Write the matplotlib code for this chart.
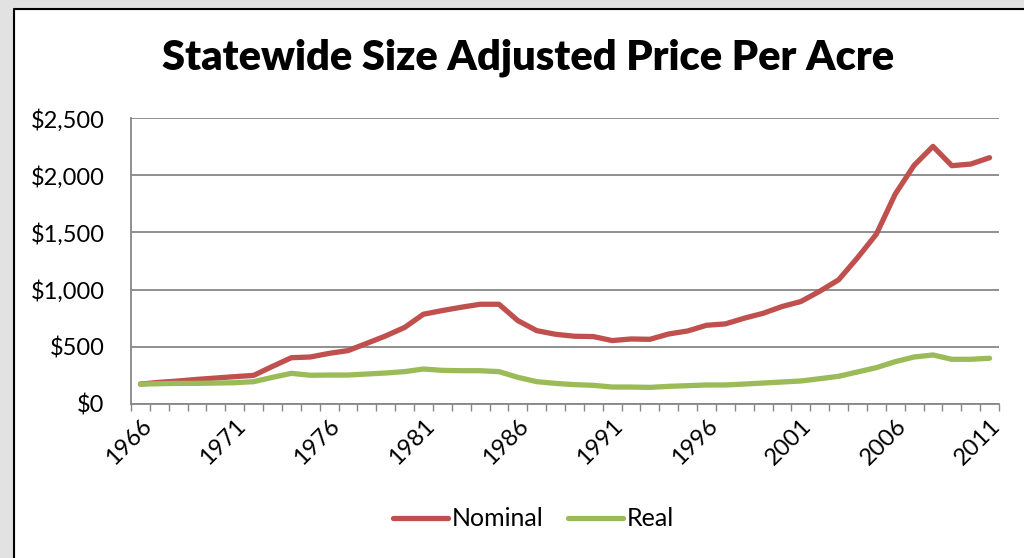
import matplotlib
matplotlib.use("Agg")
import matplotlib.pyplot as plt
from matplotlib.patches import Rectangle
from matplotlib.lines import Line2D
from matplotlib.ticker import FuncFormatter

plt.rcParams["font.family"] = "Lato"

years = list(range(1966, 2012))
nominal = [172, 187, 199, 213, 225, 237, 248, 327, 403, 409,
           441, 465, 529, 594, 668, 784, 816, 845, 871, 871,
           728, 640, 608, 591, 588, 553, 567, 564, 611, 637,
           687, 699, 749, 792, 851, 895, 985, 1085, 1278, 1485,
           1836, 2088, 2254, 2085, 2099, 2155]
real = [172, 175, 178, 178, 181, 184, 193, 231, 266, 249,
        251, 251, 260, 269, 281, 304, 292, 289, 289, 281,
        231, 193, 178, 167, 161, 146, 146, 143, 152, 158,
        164, 164, 172, 181, 190, 199, 219, 240, 278, 316,
        368, 409, 427, 389, 389, 398]
y_ticks = [0, 500, 1000, 1500, 2000, 2500]

fig = plt.figure(figsize=(10.24, 5.58), dpi=100)

# grey shadow + black frame (left and top only) of the chart box
fl, ft = 14 / 1024, 1 - 9 / 558
fig.patches.append(Rectangle((0, 0), fl, 1, transform=fig.transFigure,
                             color="#e2e2e2", zorder=0))
fig.patches.append(Rectangle((0, ft), 1, 1 - ft, transform=fig.transFigure,
                             color="#e2e2e2", zorder=0))
fig.lines.append(Line2D([fl, fl, 1], [0, ft, ft], transform=fig.transFigure,
                        color="black", linewidth=1.5))

ax = fig.add_axes([131 / 1024, 1 - 403.7 / 558, (999 - 131) / 1024, (403.7 - 118.3) / 558])
x = list(range(len(years)))
ax.plot(x, nominal, color="#C0504D", linewidth=3.8, label="Nominal",
        solid_capstyle="round", solid_joinstyle="round", zorder=3)
ax.plot(x, real, color="#9BBB59", linewidth=3.8, label="Real",
        solid_capstyle="round", solid_joinstyle="round", zorder=3)

ax.set_xlim(-0.5, len(years) - 0.5)
ax.set_ylim(0, 2500)
ax.set_yticks(y_ticks)
ax.yaxis.set_major_formatter(FuncFormatter(lambda v, p: "${:,.0f}".format(v)))
ax.grid(axis="y", color="#878787", linewidth=1.3)
ax.set_axisbelow(True)

ax.set_xticks(x[::5])
ax.set_xticklabels([str(y) for y in years[::5]], rotation=45, ha="right",
                   rotation_mode="anchor")
ax.set_xticks([i - 0.5 for i in range(len(years) + 1)], minor=True)
ax.tick_params(axis="x", which="major", length=0, pad=8, labelsize=17)
ax.tick_params(axis="x", which="minor", length=5, color="#878787", width=1)
ax.tick_params(axis="y", length=0, pad=19, labelsize=17)

for s in ["top", "right"]:
    ax.spines[s].set_visible(False)
for s in ["left", "bottom"]:
    ax.spines[s].set_color("#878787")
    ax.spines[s].set_linewidth(1.3)

fig.text(0.516, 1 - 58 / 558, "Statewide Size Adjusted Price Per Acre",
         ha="center", va="center", fontsize=30, fontweight="heavy")

fig.legend(loc="center", bbox_to_anchor=(0.521, 1 - 519 / 558), ncol=2,
           frameon=False, fontsize=18, handlelength=2.2, handletextpad=0.15,
           columnspacing=1.0)

fig.savefig("out.png", dpi=100)
